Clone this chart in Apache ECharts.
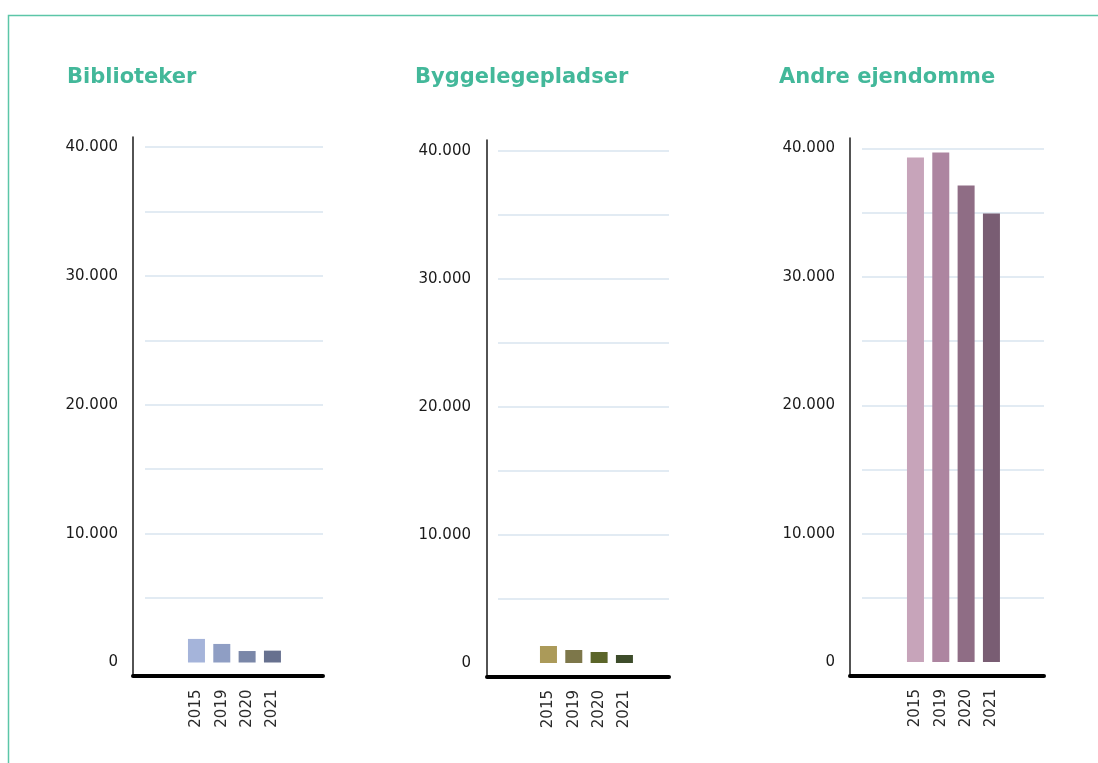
<!DOCTYPE html>
<html>
<head>
<meta charset="utf-8">
<script src="https://cdn.jsdelivr.net/npm/echarts@6/dist/echarts.min.js"></script>
<style>
html,body{margin:0;padding:0;background:#fff;}
#chart{width:1098px;height:763px;}
</style>
</head>
<body>
<div id="chart"></div>
<script>
// ---- data ----
const categories = ['2015', '2019', '2020', '2021'];
const panelTitles = ['Biblioteker', 'Byggelegepladser', 'Andre ejendomme'];
const bibliotekerValues = [1830, 1440, 890, 920];
const byggelegepladserValues = [1330, 1015, 860, 625];
const andreEjendommeValues = [39300, 39690, 37115, 34930];
const yAxisMax = 40000;
const yGridStep = 5000;
const yLabelStep = 10000;

const panelValues = [bibliotekerValues, byggelegepladserValues, andreEjendommeValues];
const panelColors = [
  ['#a5b4da', '#8f9ec4', '#7a87a8', '#67718f'],
  ['#ab9a59', '#7d774a', '#5b6529', '#3d4c2a'],
  ['#c7a4ba', '#ad85a0', '#8f6d85', '#795d73']
];

// ---- layout (pixels) ----
const layout = [
  { titleX: 67,  frame: [133, 137, 190, 539], grid: [145, 147, 178, 515.5], bars: [183.8, 147, 101.3, 515.5] },
  { titleX: 415, frame: [487, 140, 182, 537], grid: [498, 151, 171, 512],   bars: [535.8, 151, 101.3, 512] },
  { titleX: 779, frame: [850, 138, 194, 538], grid: [862, 148.5, 182, 513.5], bars: [902.8, 148.5, 101.3, 513.5] }
];

function fmt(v) {
  if (v % yLabelStep !== 0) return '';
  return String(v).replace(/\B(?=(\d{3})+(?!\d))/g, '.');
}

const grids = [], xAxes = [], yAxes = [], series = [], titles = [];
layout.forEach((L, p) => {
  titles.push({
    text: panelTitles[p], left: L.titleX, top: 67, padding: 0,
    textStyle: { fontFamily: 'DejaVu Sans', fontWeight: 'bold', fontSize: 21, color: '#43b89a' }
  });
  // frame grid: axis lines
  const gi0 = grids.length;
  grids.push({ left: L.frame[0], top: L.frame[1], width: L.frame[2], height: L.frame[3], containLabel: false });
  xAxes.push({ gridIndex: gi0, type: 'category', data: categories, axisLine: { show: true, lineStyle: { color: '#000', width: 4 } },
    axisTick: { show: false }, axisLabel: { show: false }, splitLine: { show: false } });
  yAxes.push({ gridIndex: gi0, type: 'value', min: 0, max: 1, axisLine: { show: true, lineStyle: { color: '#1a1a1a', width: 1.5 } },
    axisTick: { show: false }, axisLabel: { show: false }, splitLine: { show: false } });
  // gridline grid
  const gi1 = grids.length;
  grids.push({ left: L.grid[0], top: L.grid[1], width: L.grid[2], height: L.grid[3], containLabel: false });
  xAxes.push({ gridIndex: gi1, type: 'category', data: categories, show: false });
  yAxes.push({ gridIndex: gi1, type: 'value', min: 0, max: yAxisMax, interval: yGridStep,
    axisLine: { show: false }, axisTick: { show: false },
    axisLabel: { formatter: fmt, margin: 27, fontFamily: 'DejaVu Sans', fontSize: 15, color: '#1a1a1a', padding: [0, 0, 4, 0] },
    splitLine: { show: true, showMinLine: false, lineStyle: { color: '#d9e5ef', width: 1.5 } } });
  // bar grid
  const gi2 = grids.length;
  grids.push({ left: L.bars[0], top: L.bars[1], width: L.bars[2], height: L.bars[3], containLabel: false });
  xAxes.push({ gridIndex: gi2, type: 'category', data: categories,
    axisLine: { show: false }, axisTick: { show: false }, splitLine: { show: false },
    axisLabel: { rotate: 90, margin: 27, fontFamily: 'DejaVu Sans', fontSize: 15, color: '#2a2a2a', interval: 0 } });
  yAxes.push({ gridIndex: gi2, type: 'value', min: 0, max: yAxisMax, show: false });
  series.push({
    type: 'bar', xAxisIndex: xAxes.length - 1, yAxisIndex: yAxes.length - 1,
    barWidth: 17, data: panelValues[p].map((v, i) => ({ value: v, itemStyle: { color: panelColors[p][i] } })),
    z: 3
  });
});

const chart = echarts.init(document.getElementById('chart'), null, { renderer: 'canvas' });
chart.setOption({
  animation: false,
  backgroundColor: '#fff',
  title: titles,
  grid: grids,
  xAxis: xAxes,
  yAxis: yAxes,
  series: series,
  graphic: [{
    type: 'polyline', silent: true,
    shape: { points: [[8.5, 763], [8.5, 15.5], [1098, 15.5]] },
    style: { stroke: '#5cc6a8', lineWidth: 1.5, fill: null }
  }]
});
</script>
</body>
</html>
